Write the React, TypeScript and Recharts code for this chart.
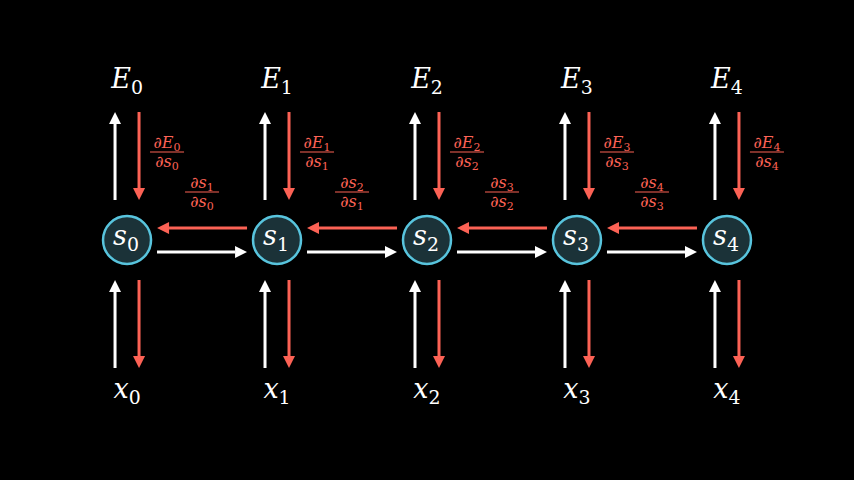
import { Scatter, ScatterChart, XAxis, YAxis } from "recharts";

const steps = [0, 1, 2, 3, 4];
const nodes = steps.map((i) => ({ i, row: 0.5 }));

const RED = "#fc6255";
const BLUE = "#58c4dd";
const FONT = "DejaVu Serif, Liberation Serif, serif";

function Arrow({ x1, y1, x2, y2, color }: { x1: number; y1: number; x2: number; y2: number; color: string }) {
  const dx = x2 - x1, dy = y2 - y1;
  const len = Math.hypot(dx, dy);
  const ux = dx / len, uy = dy / len;
  const hl = 12, hw = 6;
  const bx = x2 - ux * hl, by = y2 - uy * hl;
  return (
    <g>
      <line x1={x1} y1={y1} x2={bx} y2={by} stroke={color} strokeWidth={3} />
      <polygon
        points={`${x2},${y2} ${bx - uy * hw},${by + ux * hw} ${bx + uy * hw},${by - ux * hw}`}
        fill={color}
      />
    </g>
  );
}

function Sym({ x, y, base, sub, size, color }: any) {
  return (
    <text x={x} y={y} textAnchor="middle" fill={color} fontFamily={FONT} fontSize={size}>
      <tspan fontStyle="italic">{base}</tspan>
      <tspan fontSize={size * 0.7} dy={size * 0.22}>{sub}</tspan>
    </text>
  );
}

function Frac({ x, y, top, bot, color }: any) {
  return (
    <g>
      <text x={x} y={y - 4} textAnchor="middle" fill={color} fontFamily={FONT} fontSize={16}>
        <tspan fontStyle="italic">{top[0]}</tspan>
        <tspan fontSize={11} dy={3}>{top[1]}</tspan>
      </text>
      <line x1={x - 17} x2={x + 17} y1={y} y2={y} stroke={color} strokeWidth={1} />
      <text x={x} y={y + 15} textAnchor="middle" fill={color} fontFamily={FONT} fontSize={16}>
        <tspan fontStyle="italic">{bot[0]}</tspan>
        <tspan fontSize={11} dy={3}>{bot[1]}</tspan>
      </text>
    </g>
  );
}

function Node(props: any) {
  const { cx, cy, payload } = props;
  const i = payload.i;
  const last = i === steps.length - 1;
  return (
    <g>
      <Arrow x1={cx - 12} y1={cy - 40} x2={cx - 12} y2={cy - 128} color="#fff" />
      <Arrow x1={cx + 12} y1={cy - 128} x2={cx + 12} y2={cy - 40} color={RED} />
      <Arrow x1={cx - 12} y1={cy + 128} x2={cx - 12} y2={cy + 40} color="#fff" />
      <Arrow x1={cx + 12} y1={cy + 40} x2={cx + 12} y2={cy + 128} color={RED} />
      <Sym x={cx} y={cy - 152} base="E" sub={String(i)} size={27} color="#fff" />
      <Sym x={cx} y={cy + 158} base="x" sub={String(i)} size={27} color="#fff" />
      <Frac x={cx + 40} y={cy - 88} top={["∂E", String(i)]} bot={["∂s", String(i)]} color={RED} />
      {!last && (
        <g>
          <Arrow x1={cx + 120} y1={cy - 12} x2={cx + 30} y2={cy - 12} color={RED} />
          <Arrow x1={cx + 30} y1={cy + 12} x2={cx + 120} y2={cy + 12} color="#fff" />
          <Frac x={cx + 75} y={cy - 48} top={["∂s", String(i + 1)]} bot={["∂s", String(i)]} color={RED} />
        </g>
      )}
      <circle cx={cx} cy={cy} r={24} fill="#1b3238" stroke={BLUE} strokeWidth={2.5} />
      <Sym x={cx - 1} y={cy + 5} base="s" sub={String(i)} size={27} color="#fff" />
    </g>
  );
}

export default function App() {
  return (
    <div style={{ position: "absolute", left: 0, top: 0, width: 854, height: 480, background: "#000" }}>
      <ScatterChart width={854} height={480} margin={{ top: 0, right: 0, bottom: 0, left: 0 }}>
        <XAxis type="number" dataKey="i" domain={[-0.847, 4.847]} hide />
        <YAxis type="number" dataKey="row" domain={[0, 1]} hide />
        <Scatter data={nodes} shape={Node} isAnimationActive={false} />
      </ScatterChart>
    </div>
  );
}
